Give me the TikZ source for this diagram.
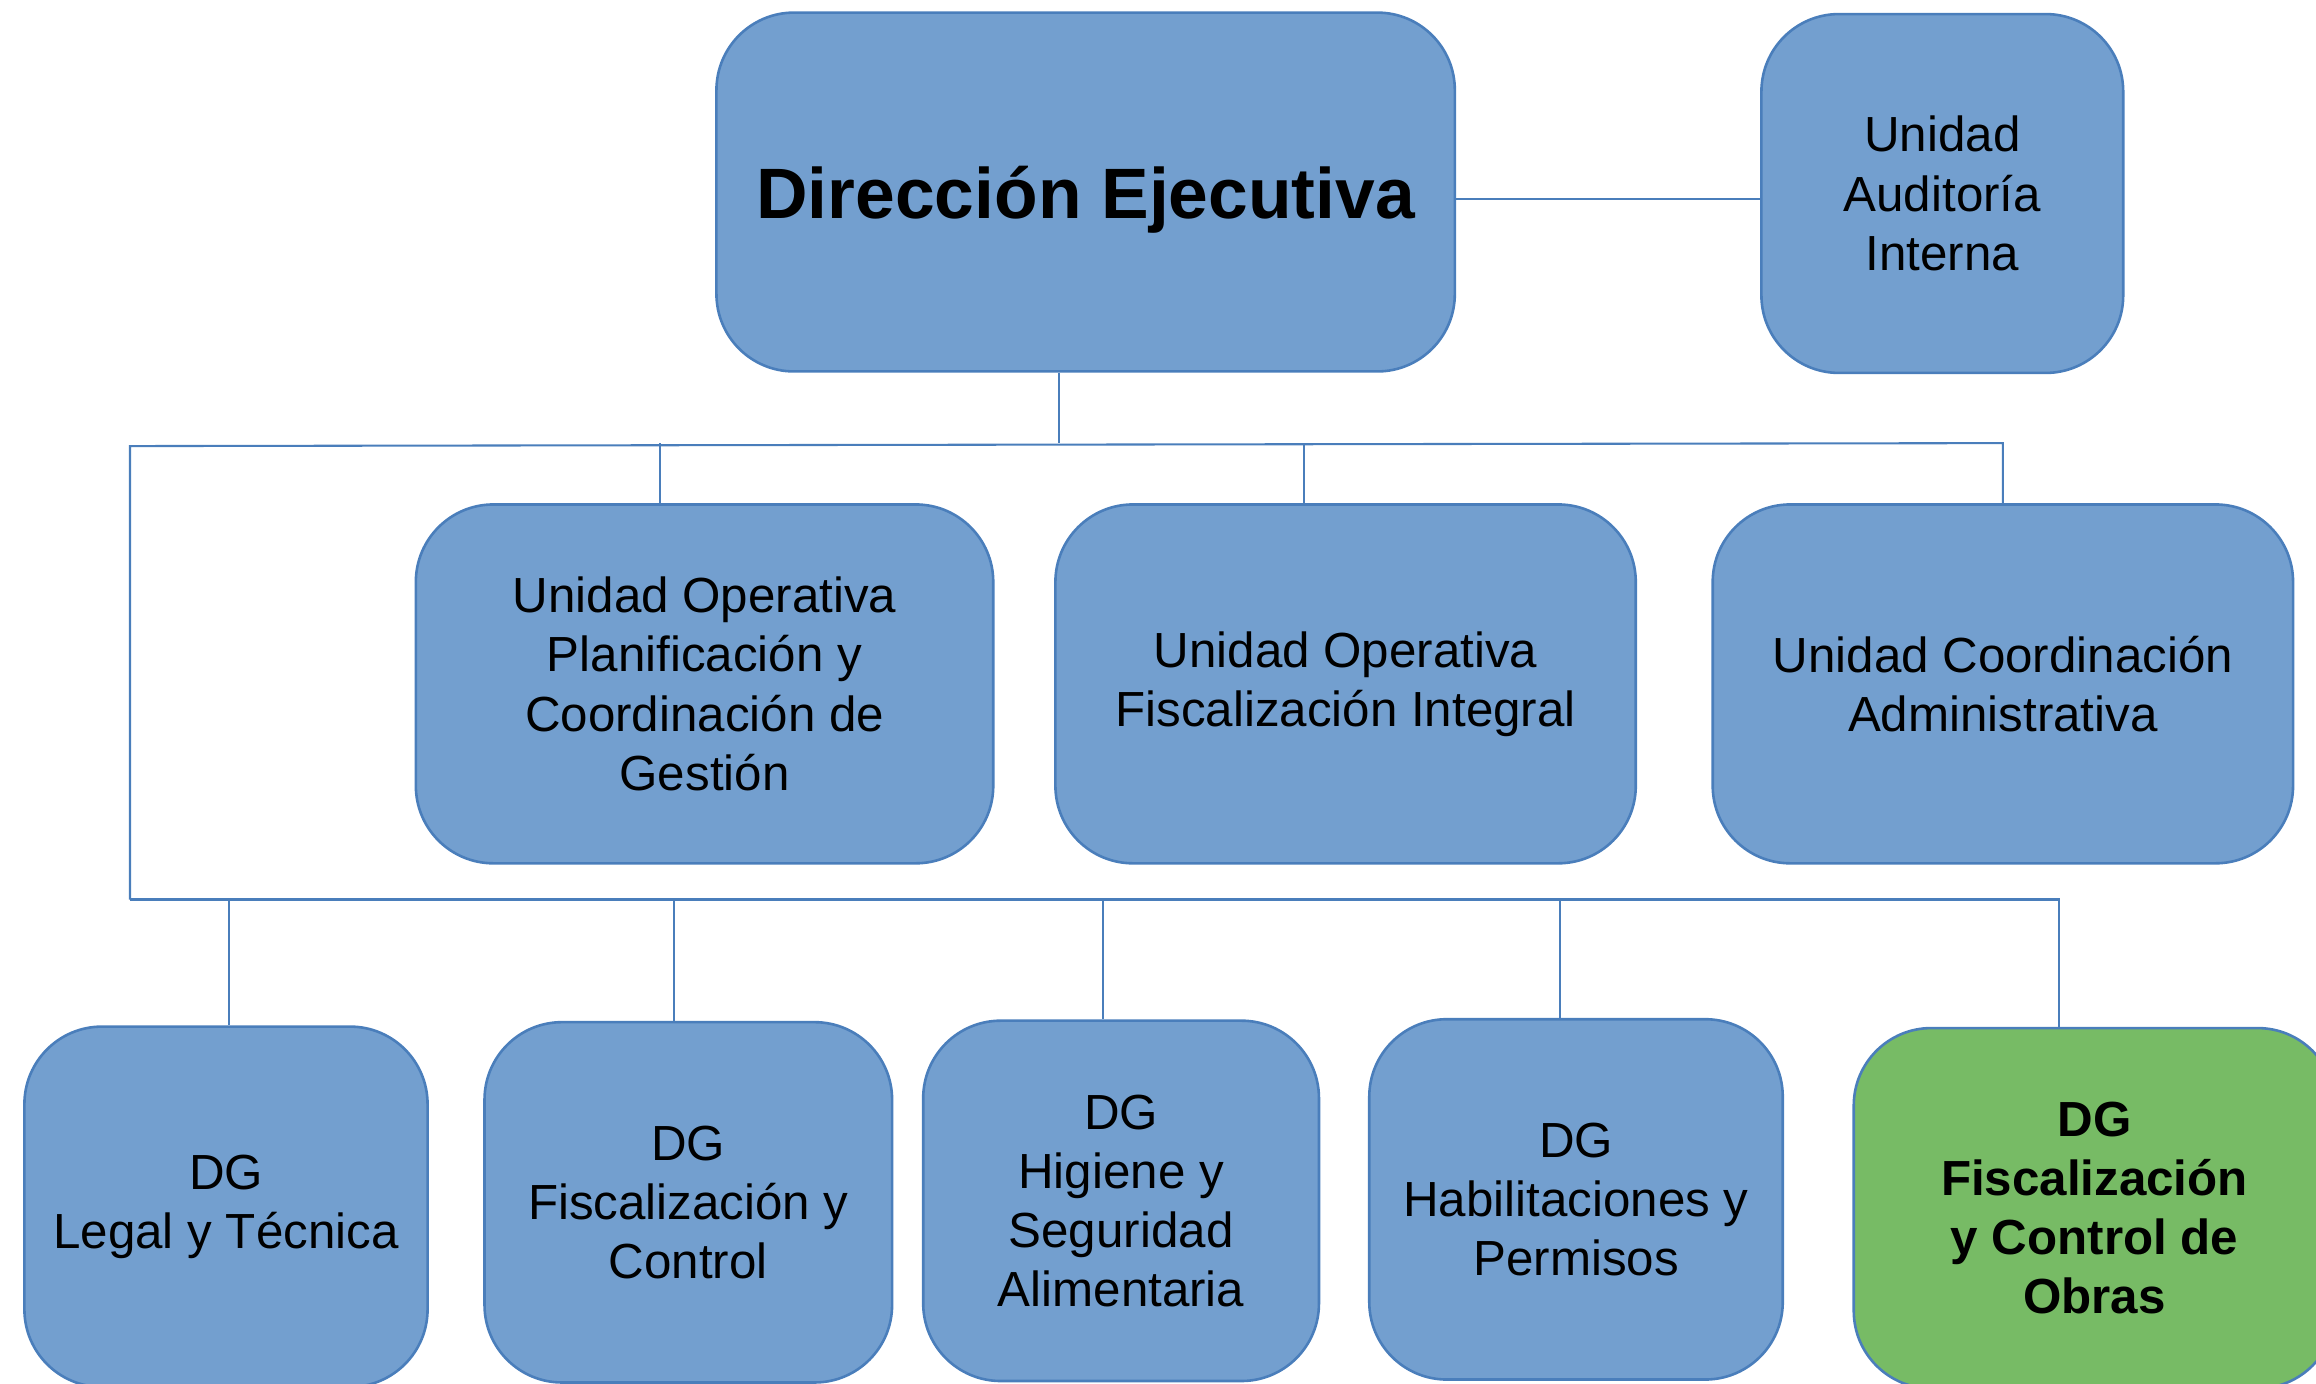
\documentclass[tikz,border=0pt]{standalone}
\usepackage{fontspec}
\setmainfont{Liberation Sans}
\usetikzlibrary{arrows.meta, positioning}
\definecolor{boxblue}{RGB}{115,159,207}
\definecolor{edgeblue}{RGB}{74,126,187}
\definecolor{boxgreen}{RGB}{119,187,101}

\begin{document}
\begin{tikzpicture}[
    x=0.02cm, y=-0.02cm,
    unit/.style={rectangle, draw=edgeblue, line width=1pt, fill=boxblue,
                 rounded corners=1.05cm, align=center, inner sep=2pt,
                 minimum height=4.86cm, font=\fontsize{19}{22.8}\selectfont},
    dg/.style={unit, minimum height=4.88cm},
    link/.style={draw=edgeblue, line width=0.8pt}
]
\clip (0,0) rectangle (1568,937);

% top level
\node[unit, minimum width=10cm, text depth=0pt, font=\fontsize{27.5}{33}\selectfont\bfseries] (dir) at (735,130) {Dirección Ejecutiva};
\node[unit, minimum width=4.9cm] (audit) at (1315,131) {Unidad\\Auditoría\\Interna};

% units
\node[unit, minimum width=7.82cm] (plan) at (477,463) {Unidad Operativa\\Planificación y\\Coordinación de\\Gestión};
\node[unit, minimum width=7.86cm] (fisc) at (911,463) {Unidad Operativa\\Fiscalización Integral};
\node[unit, minimum width=7.86cm] (admin) at (1356,463) {Unidad Coordinación\\Administrativa};

% general directions
\node[dg, minimum width=5.46cm] (legal) at (153,817) {DG\\Legal y Técnica};
\node[dg, minimum width=5.52cm] (control) at (466,814) {DG\\Fiscalización y\\Control};
\node[dg, minimum width=5.36cm] (higiene) at (759,813) {DG\\Higiene y\\Seguridad\\Alimentaria};
\node[dg, minimum width=5.6cm] (permisos) at (1067,812) {DG\\Habilitaciones y\\Permisos};
\node[dg, minimum width=6.52cm, fill=boxgreen, font=\fontsize{19}{22.8}\selectfont\bfseries] (obras) at (1418,818) {DG\\Fiscalización\\y Control de\\Obras};

\coordinate (topjoin) at (717,300);
\coordinate (topleft) at (88,302);
\coordinate (lowleft) at (88,609);
\coordinate (lowright) at (1394,609);

\draw[link] ([yshift=-0.1cm]dir.east) -- ([yshift=-0.1cm]dir.east -| audit.west);
\draw[link] (topjoin |- dir.south) -- (topjoin);
\draw[link] (lowleft) -- (topleft) -- (admin.north |- topjoin) -- (admin.north);
\draw[link] (447,300) -- (447,0 |- plan.north);
\draw[link] (883,300) -- (883,0 |- fisc.north);
\draw[link] (lowleft) -- (lowright) -- (lowright |- obras.north);
\draw[link] (155,609) -- (155,0 |- legal.north);
\draw[link] (456,609) -- (456,0 |- control.north);
\draw[link] (747,609) -- (747,0 |- higiene.north);
\draw[link] (1056,609) -- (1056,0 |- permisos.north);

\end{tikzpicture}
\end{document}
